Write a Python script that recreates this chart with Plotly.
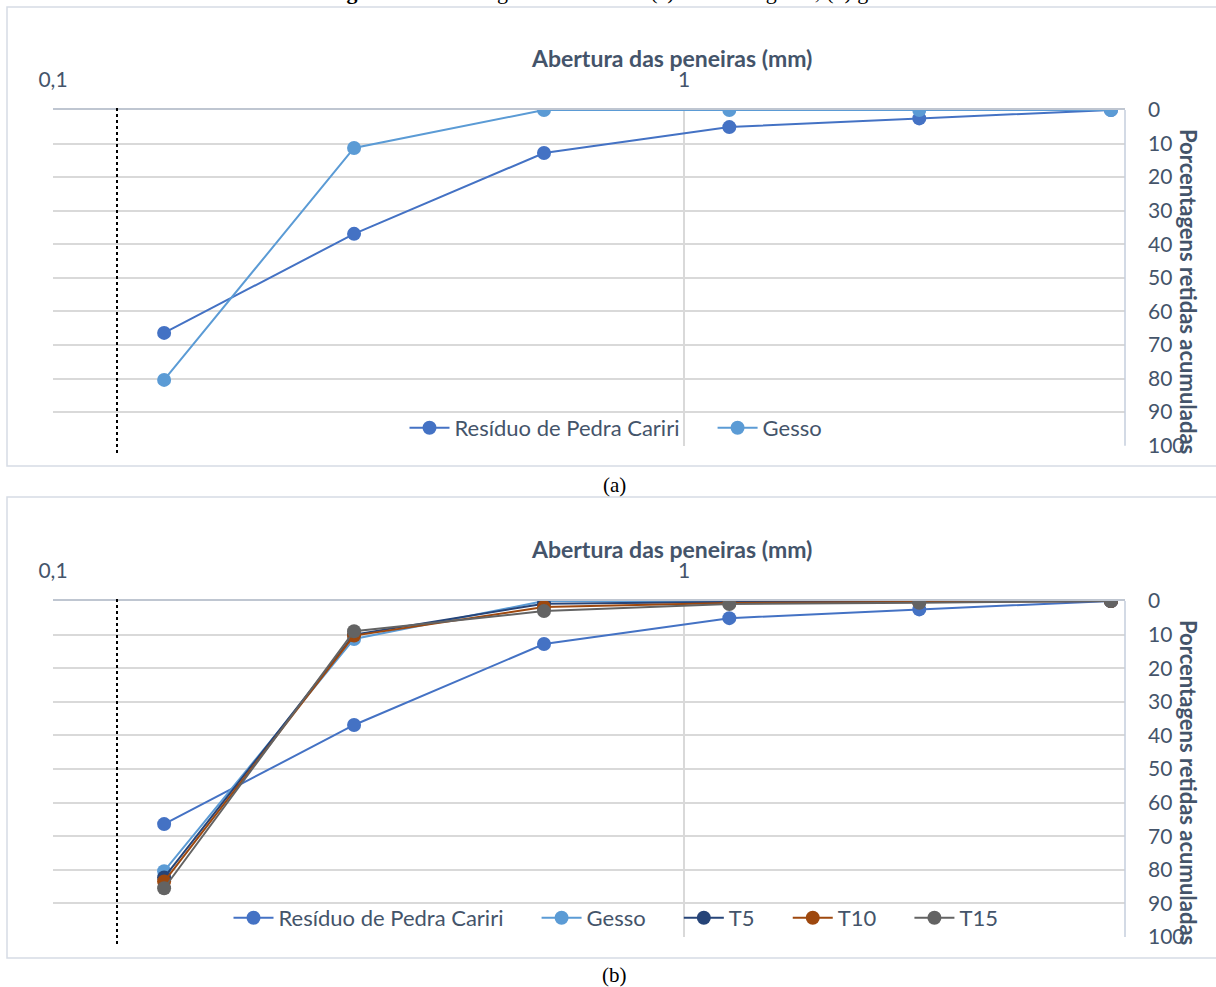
import math
import plotly.graph_objects as go

# ---- data ----
sieves_mm = [0.15, 0.3, 0.6, 1.18, 2.36, 4.75]
residuo = [66.4, 36.9, 12.8, 5.1, 2.5, 0]
gesso = [80.4, 11.3, 0, 0, 0, 0]
t5 = [82.3, 10.0, 0.8, 0.3, 0.2, 0]
t10 = [83.5, 10.3, 1.8, 0.6, 0.3, 0]
t15 = [85.5, 9.0, 3.0, 0.9, 0.5, 0]
x_tickvals = [0.1, 1]
x_ticktext = ["0,1", "1"]
y_tickvals = [0, 10, 20, 30, 40, 50, 60, 70, 80, 90, 100]

W, H = 1216, 987
FONT = "Lato"
TXT = "#44546A"
GRID = "#D9D9D9"
PAD = "\u00a0" * 5

def py(px):
    return 1 - px / H

fig = go.Figure()

series_a = [("Resíduo de Pedra Cariri", residuo, "#4472C4"),
            ("Gesso", gesso, "#5B9BD5")]
series_b = [("Resíduo de Pedra Cariri", residuo, "#4472C4"),
            ("Gesso", gesso, "#5B9BD5"),
            ("T5", t5, "#264478"),
            ("T10", t10, "#9E480E"),
            ("T15", t15, "#636363")]

def add_series(series, xa, ya, leg):
    n = len(series)
    for i, (name, vals, col) in enumerate(series):
        fig.add_trace(go.Scatter(x=sieves_mm, y=vals, name=name + (PAD if i < n - 1 else ""),
                                 mode="lines+markers",
                                 line=dict(color=col, width=2),
                                 marker=dict(color=col, size=14),
                                 xaxis=xa, yaxis=ya, legend=leg))

add_series(series_a, "x", "y", "legend")
add_series(series_b, "x2", "y2", "legend2")

xdom = [53 / W, 1125 / W]
ax_common_x = dict(type="log", range=[-1, math.log10(5)], side="top",
                   tickvals=x_tickvals, ticktext=x_ticktext,
                   showgrid=True, gridcolor=GRID, gridwidth=1.5, zeroline=False,
                   showline=True, linecolor="#BFC6D1", linewidth=1.5,
                   ticks="", ticklabelstandoff=13, automargin=False,
                   tickfont=dict(family=FONT, size=21, color=TXT), domain=xdom)
ax_common_y = dict(range=[100, 0], side="right", tickvals=y_tickvals,
                   anchor="free", position=1147 / W,
                   showgrid=True, gridcolor=GRID, gridwidth=1.5, zeroline=False,
                   showline=False, ticks="", automargin=False,
                   tickfont=dict(family=FONT, size=21, color=TXT))

dom_a = [py(445.7), py(110)]
dom_b = [py(937), py(601)]
fig.update_layout(
    xaxis=dict(ax_common_x, anchor="y"),
    yaxis=dict(ax_common_y, domain=dom_a),
    xaxis2=dict(ax_common_x, anchor="y2"),
    yaxis2=dict(ax_common_y, domain=dom_b),
)

leg_common = dict(orientation="h", xref="paper", yref="paper", x=616 / W, xanchor="center",
                  yanchor="middle", bgcolor="rgba(0,0,0,0)",
                  font=dict(family=FONT, size=22, color=TXT), itemwidth=40,
                  tracegroupgap=0)
fig.update_layout(legend=dict(leg_common, y=py(428)),
                  legend2=dict(leg_common, y=py(918)))

annotations = []
for dy in (0, 491):
    annotations.append(dict(text="<b>Abertura das peneiras (mm)</b>", x=671 / W, y=py(58 + dy),
                            xref="paper", yref="paper", xanchor="center", yanchor="middle",
                            showarrow=False, font=dict(family=FONT, size=23, color=TXT)))
    annotations.append(dict(text="<b>Porcentagens retidas acumuladas</b>", x=1189 / W, y=py(291 + dy),
                            xref="paper", yref="paper", xanchor="center", yanchor="middle",
                            showarrow=False, textangle=90,
                            font=dict(family=FONT, size=22, color=TXT)))
annotations.append(dict(text="(a)", x=614 / W, y=py(485), xref="paper", yref="paper",
                        xanchor="center", yanchor="middle",
                        showarrow=False, font=dict(family="Liberation Serif", size=21, color="black")))
annotations.append(dict(text="(b)", x=614 / W, y=py(975), xref="paper", yref="paper",
                        xanchor="center", yanchor="middle",
                        showarrow=False, font=dict(family="Liberation Serif", size=21, color="black")))
annotations.append(dict(text="<b>Figura 3</b> – Curvas granulométricas: (a) resíduo e gesso; (b) gesso.",
                        x=620 / W, y=py(6), xref="paper", yref="paper", xanchor="center",
                        yanchor="bottom",
                        showarrow=False, font=dict(family="Liberation Serif", size=22, color="black")))

shapes = []
for top, bot in ((7, 466), (497, 958)):
    shapes.append(dict(type="rect", xref="paper", yref="paper", x0=7 / W, x1=1.02,
                       y0=py(bot), y1=py(top), line=dict(color="#D6DCE5", width=1.5),
                       layer="below"))
for top, bot in ((105, 453), (596, 944)):
    shapes.append(dict(type="line", xref="paper", yref="paper", x0=117 / W, x1=117 / W,
                       y0=py(bot), y1=py(top), line=dict(color="black", width=2, dash="dot")))
# right-hand value-axis line
for dom in (dom_a, dom_b):
    shapes.append(dict(type="line", xref="paper", yref="paper", x0=1125 / W, x1=1125 / W,
                       y0=dom[0], y1=dom[1], line=dict(color="#C5CEDC", width=1.5)))

fig.update_layout(annotations=annotations, shapes=shapes,
                  width=W, height=H, autosize=False,
                  margin=dict(l=0, r=0, t=0, b=0, autoexpand=False),
                  paper_bgcolor="white", plot_bgcolor="white",
                  separators=",.", showlegend=True)

fig.write_html("out.html", config={"displayModeBar": False},
               post_script="document.body.style.margin='0';document.body.style.overflow='hidden';")
